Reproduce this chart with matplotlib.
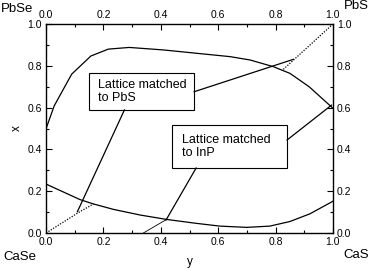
import numpy as np
import matplotlib.pyplot as plt
from matplotlib.patches import Rectangle
from matplotlib.ticker import MultipleLocator

plt.rcParams['font.family'] = ['Liberation Sans', 'DejaVu Sans']

# upper boundary of the gap
upper_y = [0.0, 0.028, 0.089, 0.156, 0.217, 0.29, 0.409, 0.525, 0.641, 0.711, 0.792, 0.85, 0.917, 1.0]
upper_x = [0.50, 0.608, 0.76, 0.847, 0.880, 0.888, 0.876, 0.860, 0.844, 0.828, 0.796, 0.764, 0.70, 0.597]

# lower boundary of the gap
lower_y = [0.0, 0.118, 0.165, 0.235, 0.328, 0.42, 0.525, 0.606, 0.699, 0.78, 0.85, 0.92, 1.0]
lower_x = [0.234, 0.160, 0.139, 0.113, 0.086, 0.065, 0.046, 0.033, 0.027, 0.033, 0.055, 0.092, 0.152]

# lattice matched to PbS (dotted, outside the gap)
pbs_lo_y = [0.0, 0.109, 0.165]
pbs_lo_x = [0.0, 0.095, 0.139]
pbs_hi_y = [0.827, 0.862, 1.0]
pbs_hi_x = [0.783, 0.827, 1.0]

# lattice matched to InP
inp_y = [0.339, 0.42]
inp_x = [0.0, 0.065]

fig = plt.figure(figsize=(3.72, 2.70), dpi=100)
ax = fig.add_axes([0.124, 0.137, 0.771, 0.774])

lw = 0.9
ax.plot(upper_y, upper_x, color='black', lw=lw)
ax.plot(lower_y, lower_x, color='black', lw=lw)
ax.plot(pbs_lo_y, pbs_lo_x, color='black', lw=lw, ls=(0, (1, 1.2)))
ax.plot(pbs_hi_y, pbs_hi_x, color='black', lw=lw, ls=(0, (1, 1.2)))
ax.plot(inp_y, inp_x, color='black', lw=0.6)

ax.set_xlim(0, 1)
ax.set_ylim(0, 1)

# text boxes with leader lines
ax.add_patch(Rectangle((0.150, 0.589), 0.366, 0.178, fill=False, ec='black', lw=0.8, zorder=3))
ax.text(0.182, 0.676, 'Lattice matched\nto PbS', fontsize=9, ha='left', va='center', linespacing=1.1)
ax.plot([0.273, 0.109], [0.589, 0.102], color='black', lw=lw)
ax.plot([0.516, 0.862], [0.676, 0.831], color='black', lw=lw)

ax.add_patch(Rectangle((0.439, 0.311), 0.401, 0.206, fill=False, ec='black', lw=0.8, zorder=3))
ax.text(0.474, 0.416, 'Lattice matched\nto InP', fontsize=9, ha='left', va='center', linespacing=1.1)
ax.plot([0.840, 0.995], [0.445, 0.612], color='black', lw=lw)
ax.plot([0.523, 0.418], [0.311, 0.062], color='black', lw=lw)

ax.xaxis.set_major_locator(MultipleLocator(0.2))
ax.xaxis.set_minor_locator(MultipleLocator(0.1))
ax.yaxis.set_major_locator(MultipleLocator(0.2))
ax.yaxis.set_minor_locator(MultipleLocator(0.1))
ax.tick_params(which='both', direction='in', top=True, right=True,
               labeltop=True, labelright=True, labelsize=7.5, width=0.8, pad=3)
ax.tick_params(which='major', length=4)
ax.tick_params(which='minor', length=2.5)
ax.xaxis.set_major_formatter(plt.FormatStrFormatter('%.1f'))
ax.yaxis.set_major_formatter(plt.FormatStrFormatter('%.1f'))
for s in ax.spines.values():
    s.set_linewidth(1.0)

ax.set_xlabel('y', fontsize=8.5, labelpad=6)
ax.set_ylabel('x', fontsize=8.5, labelpad=3)

fig.text(17 / 372, 1 - 8.5 / 270, 'PbSe', fontsize=9.5, ha='center', va='center')
fig.text(356 / 372, 1 - 6 / 270, 'PbS', fontsize=9.5, ha='center', va='center')
fig.text(20 / 372, 1 - 257 / 270, 'CaSe', fontsize=9.5, ha='center', va='center')
fig.text(356 / 372, 1 - 255 / 270, 'CaS', fontsize=9.5, ha='center', va='center')

fig.savefig('out.png', dpi=100)
